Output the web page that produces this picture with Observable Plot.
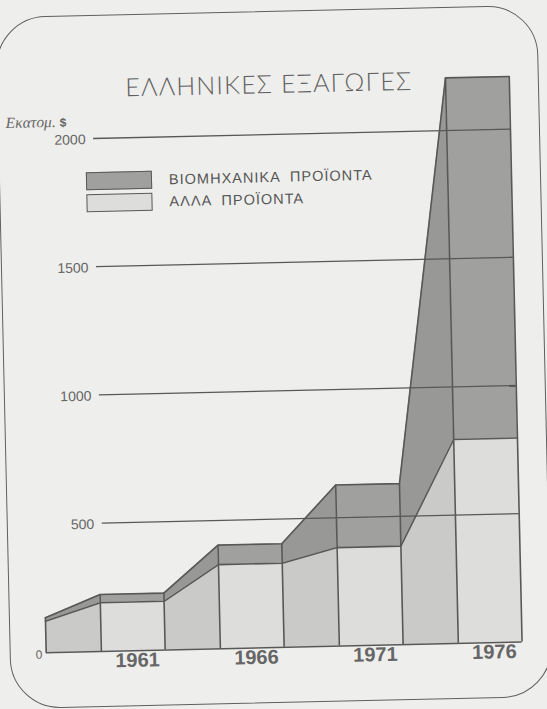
<!DOCTYPE html>
<html><head><meta charset="utf-8">
<script src="https://cdn.jsdelivr.net/npm/d3@7"></script>
<script src="https://cdn.jsdelivr.net/npm/@observablehq/plot@0.6"></script>
<style>
html,body{margin:0;padding:0;background:#eeeeec;overflow:hidden;width:547px;height:709px}
#page{position:relative;width:547px;height:709px;transform:rotate(-1.3deg);transform-origin:273.5px 354.5px}
#frame{position:absolute;left:3px;top:11px;width:542px;height:692px;border:1.6px solid #5f5f5f;border-radius:50px;box-sizing:border-box}
#chart{position:absolute;left:0;top:0}
#title{position:absolute;left:0;width:550px;top:67px;line-height:32px;text-align:center;font-family:Lato,"Open Sans","DejaVu Sans",sans-serif;font-weight:300;font-size:25px;letter-spacing:1.2px;color:#606060;white-space:pre}
#unit{position:absolute;left:11px;top:108px;line-height:18px;font-family:"Liberation Serif","DejaVu Serif",serif;font-style:italic;font-size:15.5px;color:#666;white-space:pre}
#unit b{font-style:normal;font-family:"Liberation Sans",sans-serif;font-size:12px}
.sw{position:absolute;left:90px;width:66px;height:18px;border:1.6px solid #5a5a5a;box-sizing:border-box}
.lt{position:absolute;left:173px;line-height:20px;font-family:"Liberation Sans",Arial,sans-serif;font-size:14.5px;letter-spacing:1px;color:#555;white-space:pre}
</style></head>
<body>
<div id="page">
  <div id="frame"></div>
  <div id="chart"></div>
  <div id="title"></div>
  <div id="unit"></div>
  <div id="legend"></div>
</div>
<script>
// ---- data (millions of US $) ----
const years = [1956, 1961, 1966, 1971, 1976];
const industrial = [13, 32, 76, 244, 1410];      // ΒΙΟΜΗΧΑΝΙΚΑ ΠΡΟΪΟΝΤΑ
const otherProducts = [123, 190, 328, 384, 795]; // ΑΛΛΑ ΠΡΟΪΟΝΤΑ
const yearLabels = [1961, 1966, 1971, 1976];
const yTicks = [500, 1000, 1500, 2000];
const titleText = "ΕΛΛΗΝΙΚΕΣ ΕΞΑΓΩΓΕΣ";
const unitText = "Εκατομ.";
const seriesNames = ["ΒΙΟΜΗΧΑΝΙΚΑ  ΠΡΟΪΟΝΤΑ", "ΑΛΛΑ  ΠΡΟΪΟΝΤΑ"];

// ---- styles ----
const half = 1.34; // half width of each year's plateau (in years)
const colors = {
  darkFlat: "#a0a09e", darkSlope: "#989896",
  lightFlat: "#dddddb", lightSlope: "#cacac8",
  line: "#585858", text: "#666"
};

// plateau edge points
const pts = [];
years.forEach((yr, i) => {
  const other = otherProducts[i], total = otherProducts[i] + industrial[i];
  pts.push({x: yr - half, other, total});
  pts.push({x: yr + half, other, total});
});
const x0 = years[0] + half, x1 = years[years.length - 1] + half;
const edges = pts.filter(p => p.x >= x0 - 1e-9);
const rows = [];
for (let j = 0; j < edges.length - 1; j++) {
  const a = edges[j], b = edges[j + 1];
  const flat = a.total === b.total && a.other === b.other;
  rows.push({seg: j, flat, ...a}, {seg: j, flat, ...b});
}

const chart = Plot.plot({
  width: 547, height: 709,
  marginLeft: 39, marginRight: 32, marginTop: 57, marginBottom: 62,
  style: "background: transparent; overflow: visible;",
  x: {domain: [x0, x1], axis: null},
  y: {domain: [0, 2300], axis: null},
  color: {type: "identity"},
  marks: [
    Plot.areaY(rows, {x: "x", y1: 0, y2: "other", z: "seg",
      fill: d => d.flat ? colors.lightFlat : colors.lightSlope}),
    Plot.areaY(rows, {x: "x", y1: "other", y2: "total", z: "seg",
      fill: d => d.flat ? colors.darkFlat : colors.darkSlope}),
    Plot.ruleY(yTicks, {insetLeft: 59, stroke: colors.line, strokeWidth: 1.3}),
    Plot.ruleY([0], {stroke: colors.line, strokeWidth: 1.6}),
    Plot.ruleX(edges, {x: "x", y1: 0, y2: "total", stroke: colors.line, strokeWidth: 1.6}),
    Plot.lineY(edges, {x: "x", y: "other", stroke: colors.line, strokeWidth: 1.6}),
    Plot.lineY(edges, {x: "x", y: "total", stroke: colors.line, strokeWidth: 1.6}),
    Plot.text(yTicks, {y: d => d, text: d => String(d), frameAnchor: "left", dx: 51, dy: 1,
      textAnchor: "end", fontSize: 14, fill: colors.text, fontFamily: "Liberation Sans, Arial, sans-serif"}),
    Plot.text([0], {y: d => d, text: d => String(d), frameAnchor: "left", dx: -4, dy: 2,
      textAnchor: "end", fontSize: 12, fill: colors.text, fontFamily: "Liberation Sans, Arial, sans-serif"}),
    Plot.text(yearLabels, {x: d => d, text: d => String(d), frameAnchor: "bottom", dx: 4, dy: 16,
      fontSize: 20, fontWeight: "bold", fill: colors.text, fontFamily: "Liberation Sans, Arial, sans-serif",
      letterSpacing: 1})
  ]
});
document.getElementById("chart").append(chart);

document.getElementById("title").textContent = titleText;
document.getElementById("unit").innerHTML = unitText + " <b>$</b>";
const legend = document.getElementById("legend");
const legendColors = [colors.darkFlat, colors.lightFlat];
seriesNames.forEach((name, i) => {
  const sw = document.createElement("div");
  sw.className = "sw"; sw.style.top = (168 + i * 22) + "px"; sw.style.background = legendColors[i];
  const t = document.createElement("div");
  t.className = "lt"; t.style.top = (167 + i * 22) + "px"; t.textContent = name;
  legend.append(sw, t);
});
</script>
</body></html>
